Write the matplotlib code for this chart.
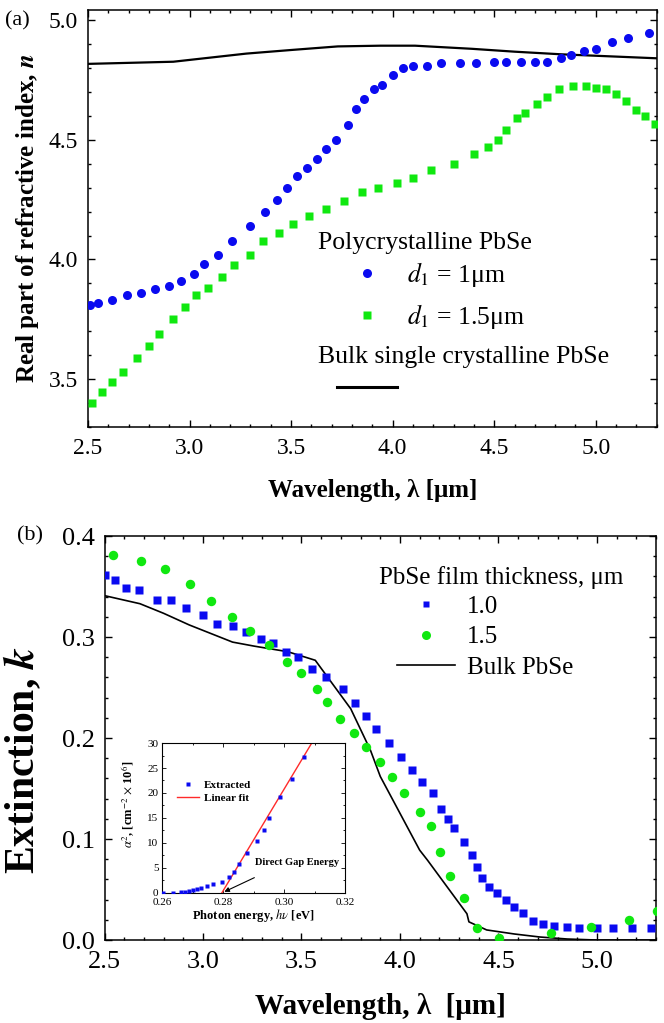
import numpy as np
import matplotlib
matplotlib.use('Agg')
import matplotlib.pyplot as plt
from matplotlib.ticker import MultipleLocator
from matplotlib.lines import Line2D

plt.rcParams['font.family'] = ['Liberation Serif', 'DejaVu Serif']
plt.rcParams['mathtext.fontset'] = 'stix'

BLUE = '#0a0af0'
GREEN = '#10e810'

# ---- panel (a): real part of refractive index ----
a_blue_wl = [2.51, 2.55, 2.62, 2.69, 2.76, 2.83, 2.90, 2.96, 3.02, 3.07,
             3.14, 3.21, 3.30, 3.37, 3.43, 3.48, 3.53, 3.58, 3.63, 3.67,
             3.72, 3.78, 3.82, 3.86, 3.91, 3.95, 4.00, 4.05, 4.10, 4.17,
             4.24, 4.33, 4.41, 4.50, 4.56, 4.63, 4.70, 4.76, 4.83, 4.88,
             4.94, 5.00, 5.08, 5.16, 5.26]
a_blue_n = [3.81, 3.82, 3.83, 3.85, 3.86, 3.875, 3.89, 3.91, 3.94, 3.98,
            4.02, 4.075, 4.14, 4.20, 4.25, 4.30, 4.35, 4.38, 4.42, 4.46,
            4.50, 4.56, 4.63, 4.67, 4.71, 4.73, 4.77, 4.80, 4.81, 4.81,
            4.82, 4.82, 4.82, 4.825, 4.825, 4.825, 4.825, 4.825, 4.84, 4.855,
            4.87, 4.88, 4.91, 4.925, 4.945]

a_green_wl = [2.52, 2.57, 2.62, 2.67, 2.74, 2.80, 2.85, 2.92, 2.98, 3.03,
              3.09, 3.16, 3.22, 3.30, 3.36, 3.44, 3.51, 3.59, 3.67, 3.76,
              3.85, 3.93, 4.02, 4.10, 4.19, 4.30, 4.40, 4.47, 4.52, 4.56,
              4.61, 4.65, 4.71, 4.76, 4.82, 4.89, 4.95, 5.00, 5.05, 5.10,
              5.15, 5.20, 5.24, 5.29]
a_green_n = [3.40, 3.445, 3.49, 3.53, 3.59, 3.64, 3.69, 3.75, 3.80, 3.85,
             3.88, 3.925, 3.975, 4.02, 4.075, 4.11, 4.15, 4.18, 4.21, 4.245,
             4.28, 4.30, 4.32, 4.34, 4.375, 4.40, 4.44, 4.47, 4.50, 4.54,
             4.59, 4.61, 4.65, 4.68, 4.71, 4.725, 4.725, 4.715, 4.71, 4.69,
             4.66, 4.625, 4.60, 4.565]

a_bulk_wl = [2.50, 2.92, 3.10, 3.28, 3.50, 3.73, 3.94, 4.11, 4.39, 4.60, 4.83, 5.31]
a_bulk_n = [4.817, 4.826, 4.843, 4.86, 4.875, 4.89, 4.893, 4.893, 4.88, 4.868, 4.857, 4.84]

# ---- panel (b): extinction ----
b_blue_wl = [2.50, 2.553, 2.61, 2.675, 2.765, 2.84, 2.914, 3.00, 3.07, 3.154,
             3.22, 3.294, 3.354, 3.42, 3.484, 3.555, 3.624, 3.712, 3.77, 3.83,
             3.88, 3.946, 4.005, 4.062, 4.113, 4.169, 4.21, 4.245, 4.276, 4.325,
             4.367, 4.392, 4.415, 4.452, 4.494, 4.537, 4.58, 4.623, 4.677, 4.724,
             4.782, 4.846, 4.907, 5.00, 5.083, 5.176, 5.273]
b_blue_k = [0.361, 0.356, 0.349, 0.3465, 0.337, 0.337, 0.329, 0.322, 0.313, 0.311,
            0.3046, 0.298, 0.2944, 0.285, 0.2805, 0.2686, 0.2607, 0.2485, 0.2343, 0.2218,
            0.2092, 0.1954, 0.1812, 0.1683, 0.1564, 0.1452, 0.130, 0.1195, 0.1106, 0.0973,
            0.0842, 0.072, 0.0617, 0.0528, 0.0468, 0.0396, 0.033, 0.0264, 0.0191, 0.0158,
            0.0142, 0.0132, 0.0122, 0.0119, 0.0119, 0.0119, 0.0119]

b_green_wl = [2.545, 2.685, 2.809, 2.934, 3.04, 3.147, 3.239, 3.335, 3.426, 3.497,
              3.58, 3.631, 3.695, 3.767, 3.826, 3.899, 3.958, 4.022, 4.102, 4.156,
              4.203, 4.254, 4.326, 4.39, 4.504, 4.765, 4.968, 5.161, 5.303]
b_green_k = [0.381, 0.3756, 0.367, 0.3525, 0.3356, 0.320, 0.306, 0.2917, 0.275, 0.264,
             0.2485, 0.236, 0.2185, 0.2053, 0.1914, 0.1765, 0.1617, 0.1452, 0.127, 0.1129,
             0.0874, 0.0634, 0.0413, 0.0115, 0.0017, 0.0073, 0.0132, 0.0198, 0.029]

b_bulk_wl = [2.50, 2.68, 2.80, 2.93, 3.15, 3.26, 3.43, 3.57, 3.75, 3.85, 3.90,
             4.10, 4.14, 4.34, 4.35, 4.44, 4.58, 4.71, 4.85, 5.00, 5.30]
b_bulk_k = [0.341, 0.333, 0.3235, 0.312, 0.295, 0.291, 0.2855, 0.277, 0.229, 0.188, 0.162,
            0.089, 0.079, 0.026, 0.018, 0.010, 0.006, 0.003, 0.001, 0.0, 0.0]

# ---- inset: alpha^2 vs photon energy ----
ins_e = [0.2604, 0.2637, 0.2661, 0.2675, 0.2690, 0.2703, 0.2716, 0.2728, 0.2747, 0.2768,
         0.2798, 0.2821, 0.2837, 0.2851, 0.2880, 0.2912, 0.2934, 0.2952, 0.2987, 0.3026, 0.3067]
ins_a2 = [0.0, 0.0, 0.1, 0.2, 0.3, 0.5, 0.7, 0.9, 1.3, 1.7,
          2.2, 3.1, 4.1, 5.7, 8.0, 10.4, 12.6, 15.0, 19.1, 22.7, 27.2]
fit_e = [0.2796, 0.3091]
fit_a2 = [0.0, 30.0]


def style_axis(ax, size, major_len=5, minor_len=2.5):
    ax.tick_params(which='both', direction='in', top=True, right=True,
                   width=1.0, labelsize=size)
    ax.tick_params(which='major', length=major_len)
    ax.tick_params(which='minor', length=minor_len)
    for s in ax.spines.values():
        s.set_linewidth(1.1)


fig = plt.figure(figsize=(6.64, 10.23), dpi=100)

# panel (a)
ax1 = fig.add_axes([0.1325, 0.5826, 0.8565, 0.4076])
ax1.plot(a_bulk_wl, a_bulk_n, color='k', lw=1.6, zorder=2)
ax1.plot(a_blue_wl, a_blue_n, 'o', color=BLUE, ms=6.5, mec='none', zorder=3)
ax1.plot(a_green_wl, a_green_n, 's', color=GREEN, ms=5.2, mec='none', zorder=3)
ax1.set_xlim(2.5, 5.3)
ax1.set_ylim(3.30, 5.042)
ax1.xaxis.set_major_locator(MultipleLocator(0.5))
ax1.xaxis.set_minor_locator(MultipleLocator(0.1))
ax1.yaxis.set_major_locator(MultipleLocator(0.5))
ax1.yaxis.set_minor_locator(MultipleLocator(0.1))
style_axis(ax1, 17)
ax1.tick_params(axis='x', pad=8)
ax1.tick_params(axis='y', pad=7)
ax1.set_xlabel(r'Wavelength, λ [μm]', fontsize=18, fontweight='bold')
ax1.set_ylabel(r'Real part of refractive index, $\mathbfit{n}$', fontsize=18, fontweight='bold')
ax1.xaxis.set_label_coords(0.5, -0.125)
ax1.yaxis.set_label_coords(-0.083, 0.5)
fig.text(0.008, 0.980, '(a)', fontsize=16, va='center')

ax1.text(0.404, 0.441, 'Polycrystalline PbSe', transform=ax1.transAxes,
         fontsize=18.5, va='center', ha='left')
ax1.text(0.404, 0.168, 'Bulk single crystalline PbSe', transform=ax1.transAxes,
         fontsize=18.5, va='center', ha='left')
h_blue = Line2D([], [], ls='none', marker='o', color=BLUE, ms=6.5, mec='none')
h_green = Line2D([], [], ls='none', marker='s', color=GREEN, ms=5.2, mec='none')
leg1 = ax1.legend([h_blue, h_green], [r'$d_1$ = 1μm', r'$d_1$ = 1.5μm'],
                  loc='center left', bbox_to_anchor=(0.4376, 0.316),
                  frameon=False, fontsize=18.5, borderpad=0, borderaxespad=0,
                  handlelength=2.33, handletextpad=0.39, labelspacing=0.5)
ax1.add_artist(leg1)
h_bulk = Line2D([], [], color='k', lw=2.2)
ax1.legend([h_bulk], [''], loc='center left', bbox_to_anchor=(0.4376, 0.091),
           frameon=False, fontsize=18.5, borderpad=0, borderaxespad=0,
           handlelength=2.33, handletextpad=0)

# panel (b)
ax2 = fig.add_axes([0.1574, 0.0811, 0.8306, 0.3949])
ax2.plot(b_bulk_wl, b_bulk_k, color='k', lw=1.2, zorder=2)
ax2.plot(b_blue_wl, b_blue_k, 's', color=BLUE, ms=5.4, mec='none', zorder=3)
ax2.plot(b_green_wl, b_green_k, 'o', color=GREEN, ms=6.8, mec='none', zorder=3)
ax2.set_xlim(2.5, 5.3)
ax2.set_ylim(0.0, 0.4)
ax2.xaxis.set_major_locator(MultipleLocator(0.5))
ax2.xaxis.set_minor_locator(MultipleLocator(0.1))
ax2.yaxis.set_major_locator(MultipleLocator(0.1))
ax2.yaxis.set_minor_locator(MultipleLocator(0.02))
style_axis(ax2, 19)
ax2.tick_params(axis='x', pad=8)
ax2.tick_params(axis='y', pad=7)
ax2.set_xlabel(r'Wavelength, λ  [μm]', fontsize=21, fontweight='bold')
ax2.set_ylabel(r'Extinction, $\mathbfit{k}$', fontsize=30, fontweight='bold')
ax2.xaxis.set_label_coords(0.5, -0.13)
ax2.yaxis.set_label_coords(-0.112, 0.445)
fig.text(0.026, 0.476, '(b)', fontsize=16, va='center')

ax2.text(0.498, 0.8985, 'PbSe film thickness, μm', transform=ax2.transAxes,
         fontsize=18, va='center', ha='left')
hb_blue = Line2D([], [], ls='none', marker='s', color=BLUE, ms=5.0, mec='none')
hb_green = Line2D([], [], ls='none', marker='o', color=GREEN, ms=6.5, mec='none')
hb_bulk = Line2D([], [], color='k', lw=1.2)
ax2.legend([hb_blue, hb_green, hb_bulk], ['1.0', '1.5', 'Bulk PbSe'],
           loc='center left', bbox_to_anchor=(0.530, 0.750),
           frameon=False, fontsize=18, borderpad=0, borderaxespad=0,
           handlelength=2.32, handletextpad=0.48, labelspacing=0.33)

# inset
axi = fig.add_axes([0.2440, 0.1271, 0.2756, 0.1466])
axi.plot(fit_e, fit_a2, color='#ff2a2a', lw=1.0, zorder=2)
axi.plot(ins_e, ins_a2, 's', color=BLUE, ms=3.3, mec='none', zorder=3)
axi.set_xlim(0.26, 0.32)
axi.set_ylim(0, 30)
axi.xaxis.set_major_locator(MultipleLocator(0.02))
axi.xaxis.set_minor_locator(MultipleLocator(0.01))
axi.yaxis.set_major_locator(MultipleLocator(5))
axi.yaxis.set_minor_locator(MultipleLocator(2.5))
axi.tick_params(which='both', direction='in', top=True, right=True,
                width=0.6, labelsize=8)
axi.tick_params(axis='x', pad=3.5)
axi.tick_params(axis='y', pad=2.5)
axi.tick_params(which='major', length=3)
axi.tick_params(which='minor', length=1.5)
for s in axi.spines.values():
    s.set_linewidth(0.8)
axi.set_xlabel(r'Photon energy, $h\nu$ [eV]', fontsize=9, fontweight='bold', labelpad=0)
axi.set_ylabel(r'$\alpha^2$, [cm$^{-2}$ $\times$ 10$^6$]', fontsize=9, fontweight='bold')
axi.yaxis.set_label_coords(-0.135, 0.59)
axi.annotate('', xy=(fit_e[0], 0.0), xytext=(0.2911, 3.3),
             arrowprops=dict(arrowstyle='-|>', color='k', lw=0.8, mutation_scale=7))
axi.text(0.2905, 5.2, 'Direct Gap Energy', fontsize=7.5, fontweight='bold', va='bottom')
hi_pts = Line2D([], [], ls='none', marker='s', color=BLUE, ms=3.5, mec='none')
hi_fit = Line2D([], [], color='#ff2a2a', lw=1.0)
leg_i = axi.legend([hi_pts, hi_fit], ['Extracted', 'Linear fit'],
                   loc='center left', bbox_to_anchor=(0.082, 0.677),
                   frameon=False, prop={'size': 8, 'weight': 'bold'},
                   borderpad=0, borderaxespad=0, handlelength=2.0,
                   handletextpad=0.45, labelspacing=0.25)

fig.savefig('out.png', dpi=100)
